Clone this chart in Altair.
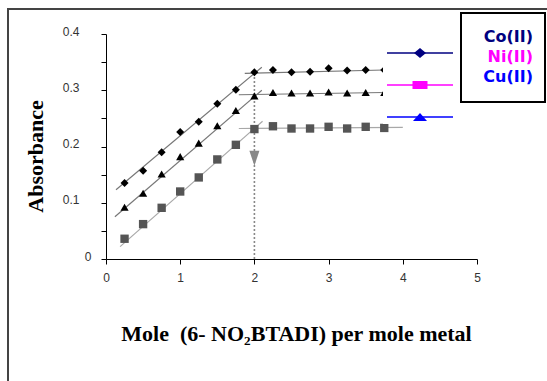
import altair as alt
import pandas as pd

# ---- data ----
x_vals = [0.25, 0.5, 0.75, 1.0, 1.25, 1.5, 1.75, 2.0, 2.25, 2.5, 2.75, 3.0, 3.25, 3.5, 3.75]
co_vals = [0.135, 0.157, 0.190, 0.226, 0.244, 0.276, 0.301, 0.332, 0.336, 0.332, 0.333, 0.339, 0.335, 0.336, 0.336]
cu_vals = [0.092, 0.117, 0.151, 0.182, 0.206, 0.237, 0.264, 0.290, 0.296, 0.295, 0.295, 0.297, 0.295, 0.296, 0.296]
ni_vals = [0.036, 0.062, 0.091, 0.120, 0.145, 0.177, 0.203, 0.231, 0.236, 0.232, 0.232, 0.235, 0.232, 0.235, 0.233]

# fitted straight lines (series, segment, start/end)
fit_series = ["Co", "Co", "Co", "Co", "Cu", "Cu", "Cu", "Cu", "Ni", "Ni", "Ni", "Ni"]
fit_seg = ["Co-r", "Co-r", "Co-f", "Co-f", "Cu-r", "Cu-r", "Cu-f", "Cu-f", "Ni-r", "Ni-r", "Ni-f", "Ni-f"]
fit_x = [0.135, 2.10, 1.87, 3.75, 0.12, 2.10, 1.79, 3.75, 0.19, 2.11, 1.79, 4.0]
fit_y = [0.123, 0.341, 0.330, 0.336, 0.075, 0.300, 0.292, 0.296, 0.022, 0.245, 0.232, 0.234]

stoich_x = [2.0]
stoich_top = [0.332]
arrow_y = [0.179]

legend_labels = ["Co(II)", "Ni(II)", "Cu(II)"]
legend_colors = ["#000080", "#ff00ff", "#0000ff"]

x_ticks = [0, 1, 2, 3, 4, 5]
y_ticks = [0, 0.05, 0.1, 0.15, 0.2, 0.25, 0.3, 0.35, 0.4]

# ---- tables ----
pts = pd.DataFrame({
    "series": ["Co"] * len(x_vals) + ["Cu"] * len(x_vals) + ["Ni"] * len(x_vals),
    "x": x_vals * 3,
    "y": co_vals + cu_vals + ni_vals,
})
fits = pd.DataFrame({"series": fit_series, "seg": fit_seg, "x": fit_x, "y": fit_y})
rule_df = pd.DataFrame({"x": stoich_x, "y": [0.0], "y2": stoich_top})
arrow_df = pd.DataFrame({"x": stoich_x, "y": arrow_y})

W, H = 371, 225
xs = alt.Scale(domain=[0, 5], nice=False, zero=True)
ys = alt.Scale(domain=[0, 0.4], nice=False)

x_axis = alt.Axis(
    values=x_ticks, format="d", tickSize=5, tickColor="#000", domainColor="#000",
    labelFont="Liberation Sans", labelFontSize=12, labelColor="#333", labelPadding=8,
    labelFlush=False, grid=False,
    title="Mole \u00a0(6- NO\u2082BTADI) per mole metal",
    titleFont="Liberation Serif", titleFontSize=22, titleFontWeight="bold", titleColor="#000",
    titleX=190, titleY=81, titleBaseline="alphabetic", titleAlign="center",
)
y_axis = alt.Axis(
    values=y_ticks,
    labelExpr="(round(datum.value*100) % 10 == 0) ? format(datum.value, '.1~f') : ''",
    tickSize=5, tickColor="#000", domainColor="#000",
    labelFont="Liberation Sans", labelFontSize=12, labelColor="#333",
    labelPadding={"condition": {"test": "datum.value == 0", "value": 10}, "value": 22},
    labelAlign="right", labelBaseline="middle", labelOffset=-3, labelFlush=False, grid=False,
    title="Absorbance",
    titleFont="Liberation Serif", titleFontSize=22, titleFontWeight="bold", titleColor="#000",
    titleAngle=270, titleX=-64, titleY=122, titleBaseline="alphabetic", titleAlign="center",
)

X = alt.X("x:Q", scale=xs, axis=x_axis)
Y = alt.Y("y:Q", scale=ys, axis=y_axis)

one = alt.Data(values=[{}])

frame = alt.Chart(one).mark_rect(fillOpacity=0, stroke="#444", strokeWidth=2).encode(
    x=alt.value(-98), x2=alt.value(520), y=alt.value(-25), y2=alt.value(400))

fit_lines = alt.Chart(fits).mark_line(strokeWidth=1.2).encode(
    x=X, y=Y, detail="seg:N",
    color=alt.Color("series:N", scale=alt.Scale(domain=["Co", "Cu", "Ni"],
                                                range=["#777777", "#777777", "#a8a8a8"]), legend=None),
)

vline = alt.Chart(rule_df).mark_rule(color="#888", strokeWidth=1.6, strokeDash=[2, 2]).encode(
    x=X, y=Y, y2="y2:Q")

arrow = alt.Chart(arrow_df).mark_point(
    shape="M-0.67,-1L0.67,-1L0,1Z", size=225, filled=True, color="#888", opacity=1).encode(x=X, y=Y)

points = alt.Chart(pts).mark_point(filled=True, opacity=1).encode(
    x=X, y=Y,
    shape=alt.Shape("series:N", scale=alt.Scale(domain=["Co", "Cu", "Ni"],
                                                range=["diamond", "triangle-up", "square"]), legend=None),
    color=alt.Color("series:N", scale=alt.Scale(domain=["Co", "Cu", "Ni"],
                                                range=["#000000", "#000000", "#555555"]), legend=None),
    size=alt.Size("series:N", scale=alt.Scale(domain=["Co", "Cu", "Ni"], range=[64, 70, 49]), legend=None),
)

# white area behind legend samples
cover = alt.Chart(one).mark_rect(fill="white").encode(
    x=alt.value(277), x2=alt.value(354), y=alt.value(6), y2=alt.value(90))

legend_layers = []
sample_y = [19, 51, 83]
sample_shapes = ["M-1,0L0,-0.83L1,0L0,0.83Z", "M-1,-0.53H1V0.53H-1Z", "M-1,0.57L0,-0.57L1,0.57Z"]
sample_sizes = [144, 225, 196]
for i in range(3):
    legend_layers.append(alt.Chart(one).mark_rule(color=legend_colors[i], strokeWidth=1.5).encode(
        x=alt.value(281), x2=alt.value(347), y=alt.value(sample_y[i])))
    legend_layers.append(alt.Chart(one).mark_point(
        shape=sample_shapes[i], size=sample_sizes[i], filled=True, opacity=1,
        color=legend_colors[i]).encode(x=alt.value(314), y=alt.value(sample_y[i])))

box = alt.Chart(one).mark_rect(fill="white", stroke="#000", strokeWidth=2).encode(
    x=alt.value(355), x2=alt.value(439), y=alt.value(-21), y2=alt.value(68))

text_y = [3, 23, 43]
for i in range(3):
    legend_layers.append(alt.Chart(one).mark_text(
        text=legend_labels[i], font="DejaVu Sans", fontSize=16, fontWeight="bold",
        color=legend_colors[i], align="right", baseline="middle").encode(
        x=alt.value(427), y=alt.value(text_y[i])))

chart = alt.layer(
    frame, fit_lines, vline, arrow, points, cover, *legend_layers[:6], box, *legend_layers[6:]
).resolve_scale(color="independent").properties(
    width=W, height=H,
    autosize=alt.AutoSizeParams(type="none"),
    padding={"left": 106, "top": 34, "right": 70, "bottom": 122},
    background="white",
).configure_view(strokeWidth=0)

chart.save("out.html", embed_options={"renderer": "svg", "actions": False})
